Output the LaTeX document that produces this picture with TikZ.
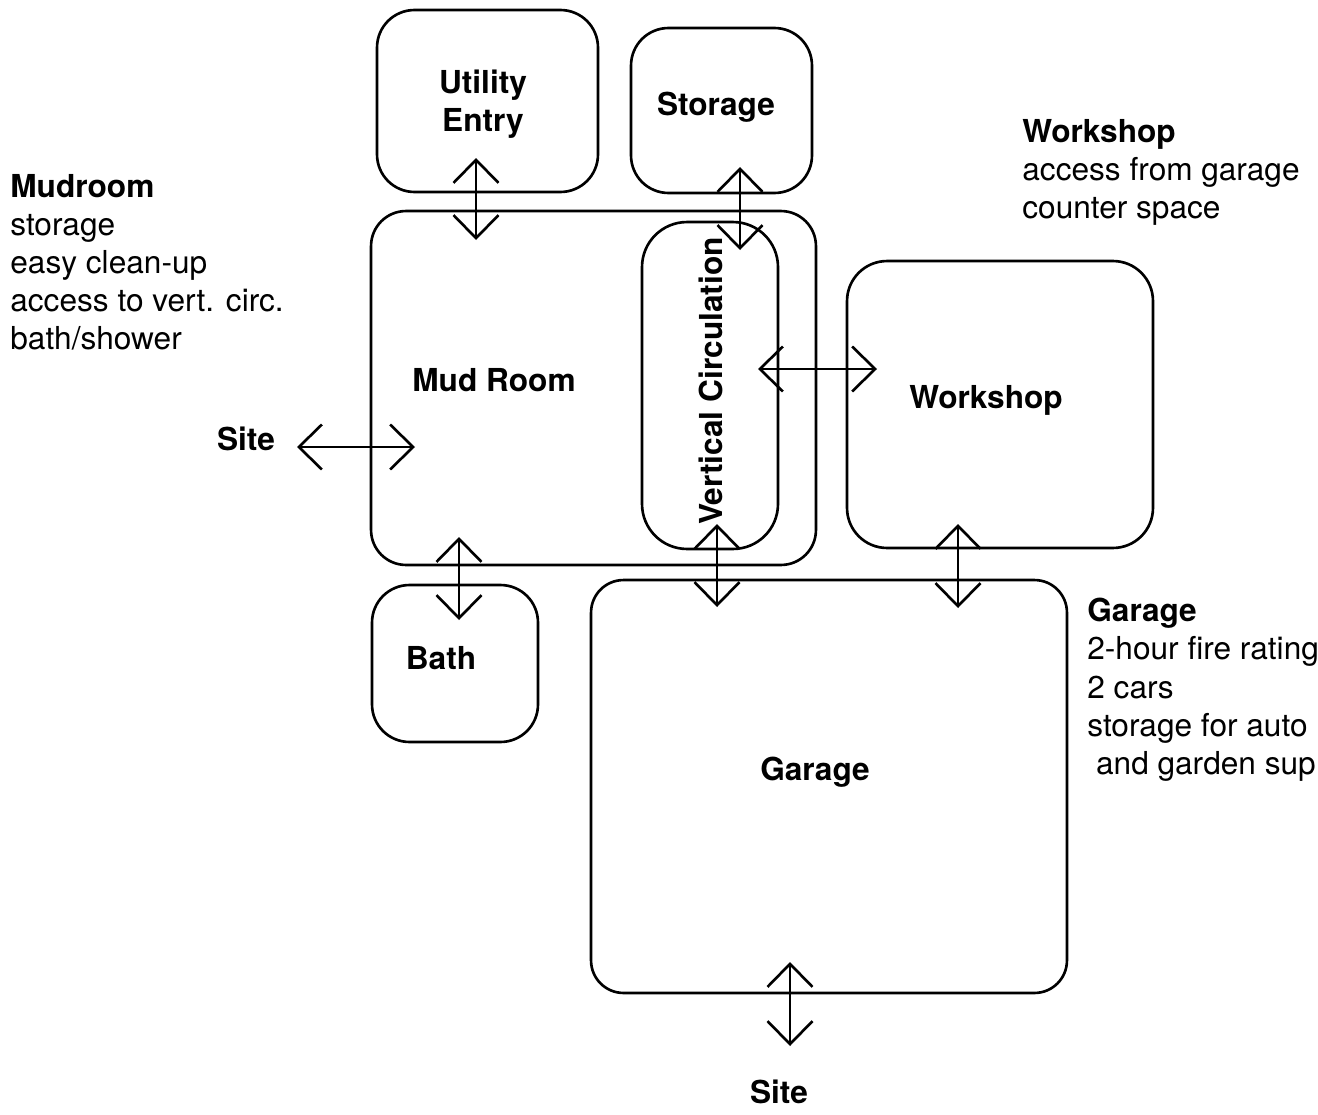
\documentclass[tikz,border=0pt]{standalone}
\usepackage{fontspec}
\setmainfont{TeX Gyre Heros}
\usetikzlibrary{arrows.meta}
\begin{document}
\begin{tikzpicture}[x=0.02cm,y=-0.02cm,
  room/.style={draw, line width=1.5pt, rounded corners=0.75cm, inner sep=0pt},
  lbl/.style={font=\bfseries\fontsize{18}{21.7}\selectfont, align=center, inner sep=0pt},
  note/.style={font=\fontsize{18}{21.7}\selectfont, align=left, anchor=north west, inner sep=0pt},
  barb/.tip={Straight Barb[length=0.46cm,width=0.9cm]},
  link/.style={line width=1.5pt, barb-barb}]
\useasboundingbox (0,0) rectangle (1318,1115);
\fill[white] (0,0) rectangle (1318,1115);
\clip (0,0) rectangle (1318,1115);

% rooms
\node[room, minimum width=4.42cm, minimum height=3.64cm] (util) at (487.5,101) {};
\node[room, minimum width=3.62cm, minimum height=3.30cm] (stor) at (721.5,110.5) {};
\node[room, minimum width=8.90cm, minimum height=7.08cm, rounded corners=0.7cm] (mud) at (593.5,388) {};
\node[room, minimum width=2.72cm, minimum height=6.54cm, rounded corners=0.9cm] (vc) at (710,385.5) {};
\node[room, minimum width=6.12cm, minimum height=5.74cm, rounded corners=0.8cm] (work) at (1000,404.5) {};
\node[room, minimum width=3.32cm, minimum height=3.14cm] (bath) at (455,663.5) {};
\node[room, minimum width=9.52cm, minimum height=8.26cm, rounded corners=0.65cm] (gar) at (829,786.5) {};

% room labels
\node[lbl] (utillbl) at (483,104) {Utility\\Entry};
\node[lbl, anchor=base] (storlbl) at (716,115) {Storage};
\node[lbl, anchor=base] (mudlbl) at (494,391) {Mud Room};
\node[lbl, rotate=90] (vclbl) at (711,381) {Vertical Circulation};
\node[lbl, anchor=base] (worklbl) at (986,408) {Workshop};
\node[lbl, anchor=base] (bathlbl) at (441,669) {Bath};
\node[lbl, anchor=base] (garlbl) at (815,780) {Garage};
\node[lbl, anchor=base] (site1) at (246,450) {Site};
\node[lbl, anchor=base] (site2) at (779,1103) {Site};

% notes
\node[note] (mudnote) at (10,174) {\textbf{Mudroom}\\storage\\easy clean-up\\access to vert. circ.\\bath/shower};
\node[note] (worknote) at (1022,119) {\textbf{Workshop}\\access from garage\\counter space};
\node[note] (garnote) at (1087,598) {\textbf{Garage}\\2-hour fire rating\\2 cars\\storage for auto\\\hspace*{5pt}and garden sup};

% connector ends
\coordinate (a1s) at (476,158); \coordinate (a1e) at (476,240);
\coordinate (a2s) at (740,167); \coordinate (a2e) at (740,250);
\coordinate (a3s) at (297,447); \coordinate (a3e) at (415,447);
\coordinate (a4s) at (758,369); \coordinate (a4e) at (877,369);
\coordinate (a5s) at (459,537); \coordinate (a5e) at (459,620);
\coordinate (a6s) at (717,524); \coordinate (a6e) at (717,607);
\coordinate (a7s) at (958,524); \coordinate (a7e) at (958,608);
\coordinate (a8s) at (790,962); \coordinate (a8e) at (790,1046);

\draw[link] (a1s) -- (a1e);
\draw[link] (a2s) -- (a2e);
\draw[link] (a3s) -- (a3e);
\draw[link] (a4s) -- (a4e);
\draw[link] (a5s) -- (a5e);
\draw[link] (a6s) -- (a6e);
\draw[link] (a7s) -- (a7e);
\draw[link] (a8s) -- (a8e);
\end{tikzpicture}
\end{document}
